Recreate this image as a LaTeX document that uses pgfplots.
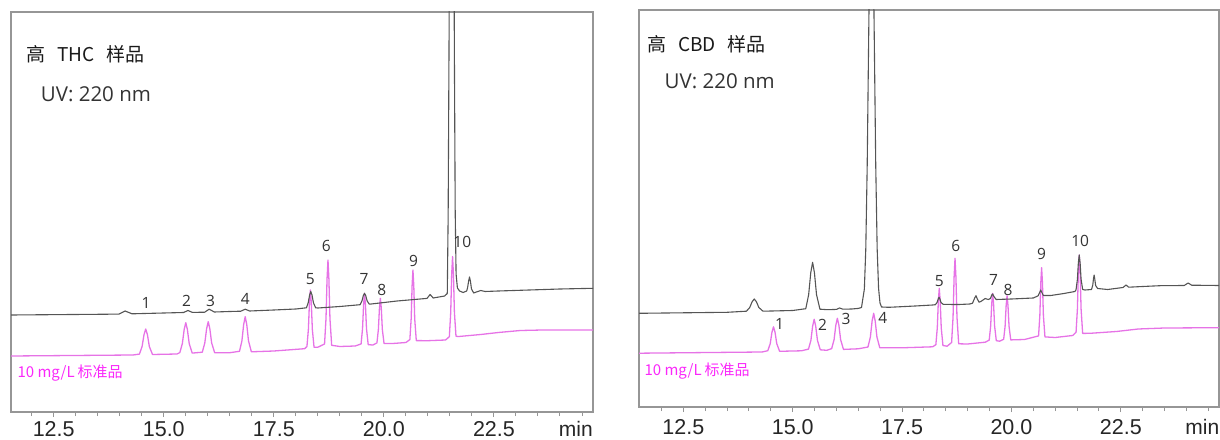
\documentclass[border=0pt]{standalone}
\usepackage{fontspec}
\usepackage{pgfplots}
\pgfplotsset{compat=1.18}
\newfontfamily\cjk{Noto Sans CJK SC}
\newfontfamily\osans{Open Sans}
\newfontfamily\lsans{Liberation Sans}
\definecolor{trblack}{RGB}{85,85,85}
\definecolor{trmag}{RGB}{230,115,230}
\definecolor{txtmag}{RGB}{250,40,250}
\definecolor{framegray}{RGB}{150,150,150}
\tikzset{lbl/.style={font=\osans\fontsize{15.5}{17}\selectfont, text=black!80, inner sep=0pt}}
\pgfplotsset{chrom/.style={
  scale only axis,
  ymin=0,
  axis line style={framegray, line width=1.5pt},
  xtick={12.5,15,17.5,20,22.5},
  xticklabels={12.5,15.0,17.5,20.0,22.5},
  minor xtick={12,12.5,...,24.5},
  ytick=\empty,
  tick align=outside,
  xtick pos=lower,
  major tick length=5pt, minor tick length=4pt,
  every tick/.style={framegray, line width=1pt},
  xticklabel style={font=\lsans\fontsize{21.5}{24}\selectfont, text=black!85, inner sep=0pt, anchor=base},
  /pgf/number format/assume math mode=true,
  clip mode=individual,
  every axis plot/.append style={line join=round, no marks},
}}
\begin{document}
\begin{tikzpicture}[x=1pt,y=1pt]
\useasboundingbox (0,0) rectangle (1220,439);
% ---------------- left panel ----------------
\begin{axis}[chrom, at={(11pt,27pt)}, anchor=south west,
  width=582pt, height=400pt, xmin=11.53, xmax=24.75, ymax=400,
  xticklabel style={yshift=-19.5pt}]
\addplot[trmag, line width=1.3pt] coordinates {
(11.53,56) (14.3,57) (14.447,57.9) (14.5075,65.5) (14.5515,77.4) (14.59,83) (14.6285,77.4) (14.6725,65.5) (14.744,57.5)
(15.3,58) (15.365,59.4) (15.422,68.4) (15.464,82.6) (15.50,89.3) (15.536,82.6) (15.578,68.4) (15.646,58.9)
(15.875,59.8) (15.932,69) (15.974,83.4) (16.01,90.3) (16.046,83.4) (16.088,69) (16.156,59.3)
(16.5,59.3) (16.72,60.7) (16.775,71.1) (16.815,87.5) (16.85,95.3) (16.885,87.5) (16.925,71.1) (16.99,60.2)
(17.5,61) (18.2,63.3) (18.252,65.5) (18.285,82.5) (18.309,109.3) (18.33,122) (18.351,109.3) (18.375,82.5) (18.414,64.7)
(18.5,64.8) (18.652,68) (18.685,93.3) (18.709,133.1) (18.73,152) (18.751,133.1) (18.775,93.3) (18.814,66.7)
(19.0,65.5) (19.35,66) (19.482,68.1) (19.515,83.3) (19.539,107.3) (19.56,118.7) (19.581,107.3) (19.605,83.3) (19.644,67.3)
(19.75,67) (19.842,69.1) (19.875,82.5) (19.899,103.7) (19.92,113.7) (19.941,103.7) (19.965,82.5) (20.004,68.4)
(20.2,68.5) (20.5,69.5) (20.59,72.4) (20.62,93.4) (20.641,126.4) (20.66,142) (20.679,126.4) (20.70,93.4) (20.736,71.4)
(21.0,71.3) (21.4,72) (21.487,75.3) (21.518,99.5) (21.54,137.5) (21.56,155.5) (21.58,137.5) (21.602,99.5) (21.638,75.7)
(21.7,75.5) (22.2,77.5) (22.6,79.5) (23.1,81.5) (23.6,82) (24.75,82)};
\addplot[trblack, line width=1.1pt] coordinates {
(11.53,97.0) (13.5,97.7) (13.98,97.9) (14.12,101) (14.28,98.2) (15.0,99) (15.45,99.5) (15.55,101.5) (15.65,99.6)
(15.93,99.8) (16.03,102.8) (16.15,100) (16.5,100.5) (16.75,100.8) (16.85,102.8) (16.95,101) (17.5,102) (18.0,103)
(18.24,104.2) (18.28,109) (18.312,116.8) (18.34,120.5) (18.368,116.9) (18.40,109.2) (18.45,104.2) (18.5,104.0)
(19.0,105.5) (19.46,107.3) (19.50,110.8) (19.532,116.2) (19.56,118.7) (19.588,116.3) (19.62,111) (19.67,107.8)
(20.3,111) (20.98,113.6) (21.05,117.5) (21.12,114) (21.38,116) (21.44,118.5) (21.46,197) (21.48,370) (21.50,690)
(21.54,1217) (21.58,690) (21.60,371) (21.62,200) (21.64,138) (21.67,124) (21.72,121) (21.80,119.5) (21.88,121)
(21.90,124) (21.925,131) (21.945,135) (21.965,131) (21.99,123) (22.04,119) (22.1,120) (22.2,121.5) (22.3,120.5)
(22.6,121) (23.3,122) (24.0,123) (24.75,123.7)};
\node[lbl] at (axis cs:14.60,109) {1};
\node[lbl] at (axis cs:15.52,111) {2};
\node[lbl] at (axis cs:16.06,111) {3};
\node[lbl] at (axis cs:16.85,113) {4};
\node[lbl] at (axis cs:18.33,133) {5};
\node[lbl] at (axis cs:18.69,166) {6};
\node[lbl] at (axis cs:19.55,133) {7};
\node[lbl] at (axis cs:19.95,122) {8};
\node[lbl] at (axis cs:20.675,151) {9};
\node[lbl] at (axis cs:21.78,170) {10};
\end{axis}
% ---------------- right panel ----------------
\begin{axis}[chrom, at={(639.2pt,32pt)}, anchor=south west,
  width=580pt, height=397pt, xmin=11.49, xmax=24.75, ymax=397,
  xticklabel style={yshift=-22pt}]
\addplot[trmag, line width=1.3pt] coordinates {
(11.49,53.8) (14.3,55) (14.43,56.3) (14.485,63.3) (14.525,74.8) (14.56,80.2) (14.595,74.8) (14.635,63.3) (14.70,55.7)
(15.2,56.2) (15.36,57.9) (15.415,66.6) (15.455,80.9) (15.49,87.7) (15.525,80.9) (15.565,66.6) (15.63,57.2)
(15.78,56.7) (15.89,58.4) (15.945,67.3) (15.985,81.8) (16.02,88.7) (16.055,81.8) (16.095,67.3) (16.16,57.6)
(16.5,58.2) (16.72,60) (16.775,70) (16.815,86.1) (16.85,93.7) (16.885,86.1) (16.925,70) (16.99,59.2)
(17.5,59.2) (18.2,60.2) (18.272,62.3) (18.305,79.3) (18.329,106) (18.35,118.7) (18.371,106) (18.395,79.3) (18.434,61.5)
(18.53,60.8) (18.632,64.5) (18.665,89.8) (18.689,129.8) (18.71,148.7) (18.731,129.8) (18.755,89.8) (18.794,63.2)
(19.0,63) (19.4,64.8) (19.492,66.9) (19.525,81) (19.549,103.2) (19.57,113.7) (19.591,103.2) (19.615,81) (19.654,66.3)
(19.73,65.8) (19.822,67.7) (19.855,80.8) (19.879,101.4) (19.90,111.2) (19.921,101.4) (19.945,80.8) (19.984,67.1)
(20.3,67.5) (20.62,71.1) (20.6495,91.6) (20.671,124) (20.69,139.3) (20.709,124) (20.7305,91.6) (20.766,70.1)
(21.0,69.5) (21.4,71.5) (21.477,74.7) (21.508,98) (21.53,134.6) (21.55,152) (21.57,134.6) (21.592,98) (21.628,73.6)
(21.8,73.7) (22.4,75.5) (22.9,78) (23.5,79) (24.75,79.3)};
\addplot[trblack, line width=1.1pt] coordinates {
(11.49,93.7) (13.5,94.7) (13.94,95.8) (14.015,99.3) (14.07,105.1) (14.12,108) (14.17,105.2) (14.225,99.5) (14.32,95.8)
(15.0,96.5) (15.298,98.3) (15.364,112.3) (15.412,134.3) (15.454,144.7) (15.496,134.3) (15.544,112.3) (15.622,97.8)
(15.8,97.3) (16.0,97.6) (16.07,99) (16.15,97.8) (16.35,98) (16.5,98.6) (16.572,99.5) (16.6375,117.9) (16.67,158)
(16.7025,241.5) (16.735,365.5) (16.7675,486.8) (16.80,538.5) (16.8325,486.8) (16.865,365.5) (16.8975,242) (16.93,158.5)
(16.9625,118.5) (16.995,104) (17.03,100) (17.2,99.7) (17.8,101) (18.2,102) (18.26,102.3) (18.30,104.5) (18.325,108)
(18.345,109.8) (18.365,108) (18.39,104.6) (18.44,102.6) (18.8,102.5) (19.05,103) (19.11,103.8) (19.16,109) (19.19,111.3)
(19.22,108) (19.26,104.8) (19.30,105.5) (19.40,108.5) (19.47,107.5) (19.52,108.5) (19.55,112) (19.57,113) (19.60,110.5)
(19.65,107.5) (20.0,108) (20.5,109) (20.61,111.2) (20.65,115) (20.67,117) (20.69,115) (20.73,111.5) (20.9,111.5)
(21.2,113.5) (21.45,115.5) (21.477,117.3) (21.508,127.7) (21.53,144.2) (21.55,152) (21.57,144.2) (21.592,127.8)
(21.628,117.5) (21.68,117) (21.83,117.5) (21.86,122) (21.875,128) (21.89,132) (21.905,128) (21.925,121.5) (21.97,118.5)
(22.2,117.5) (22.55,119.5) (22.62,122) (22.68,119.8) (23.0,120.5) (23.4,121.3) (23.95,121.5) (24.04,124) (24.12,121.8)
(24.75,121.5)};
\node[lbl] at (axis cs:14.70,83) {1};
\node[lbl] at (axis cs:15.68,82) {2};
\node[lbl] at (axis cs:16.22,88) {3};
\node[lbl] at (axis cs:17.06,89) {4};
\node[lbl] at (axis cs:18.35,126.3) {5};
\node[lbl] at (axis cs:18.73,161) {6};
\node[lbl] at (axis cs:19.59,127) {7};
\node[lbl] at (axis cs:19.92,117) {8};
\node[lbl] at (axis cs:20.69,152.7) {9};
\node[lbl] at (axis cs:21.57,166.3) {10};
\end{axis}
% ---------------- texts ----------------
\node[anchor=west, inner sep=0pt, font=\cjk\fontsize{19}{22}\selectfont, text=black!90] at (26,385) {高\hspace{12pt}THC\hspace{12pt}样品};
\node[anchor=west, inner sep=0pt, font=\osans\fontsize{20.5}{24}\selectfont, text=black!80] at (40.7,345) {UV: 220 nm};
\node[anchor=west, inner sep=0pt, font=\cjk\fontsize{15}{18}\selectfont, text=txtmag] at (17.3,66) {10 mg/L\hspace{3pt}标准品};
\node[anchor=west, inner sep=0pt, font=\cjk\fontsize{19}{22}\selectfont, text=black!90] at (647,395) {高\hspace{12pt}CBD\hspace{12pt}样品};
\node[anchor=west, inner sep=0pt, font=\osans\fontsize{20.5}{24}\selectfont, text=black!80] at (664.5,358) {UV: 220 nm};
\node[anchor=west, inner sep=0pt, font=\cjk\fontsize{15}{18}\selectfont, text=txtmag] at (644.3,68.3) {10 mg/L\hspace{3pt}标准品};
\node[anchor=base east, inner sep=0pt, font=\lsans\fontsize{21}{24}\selectfont, text=black!85] at (593,2.5) {min};
\node[anchor=base east, inner sep=0pt, font=\lsans\fontsize{21}{24}\selectfont, text=black!85] at (1219.5,4.5) {min};
\end{tikzpicture}
\end{document}
